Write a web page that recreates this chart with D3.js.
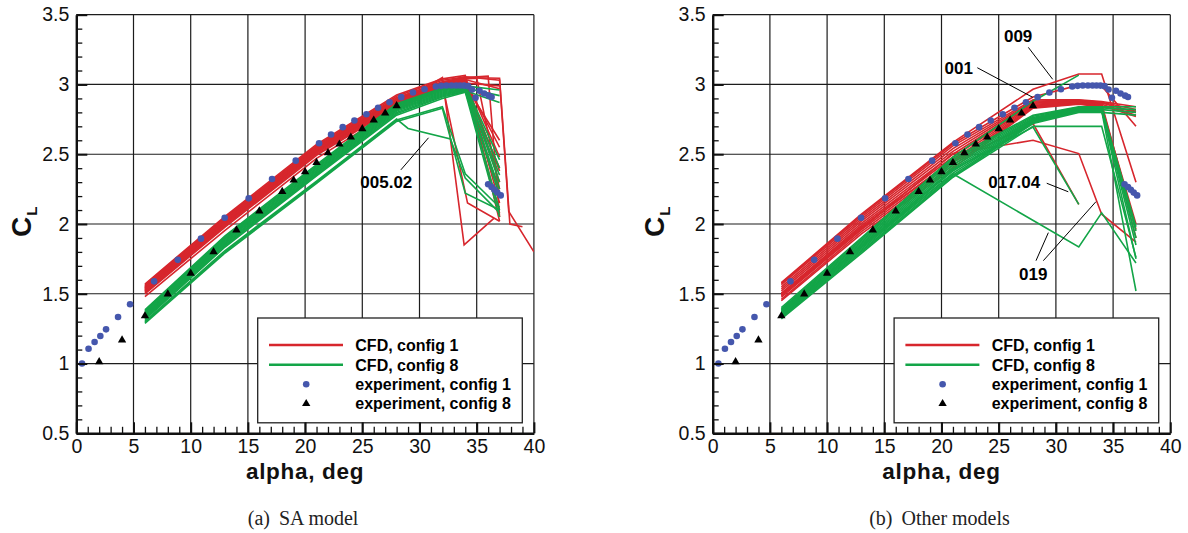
<!DOCTYPE html>
<html>
<head>
<meta charset="utf-8">
<script src="https://cdn.jsdelivr.net/npm/d3@7"></script>
<style>
  html, body { margin: 0; padding: 0; background: #fff; }
  svg { display: block; }
</style>
</head>
<body>
<svg id="fig" width="1188" height="533"></svg>
<script>
// ---------------------------------------------------------------
// Lift coefficient vs. angle of attack, CFD runs and wind tunnel data
// ---------------------------------------------------------------

// Standard angles of attack of the CFD runs (deg)
const alphaStd = [6, 13, 21, 28, 32, 34, 37];

// Experiment, config 1 (circles)
const expAlpha1 = [0.5, 1.07, 1.6, 2.1, 2.6, 3.65, 4.7, 6.8, 8.87, 10.9, 12.97, 15.07, 17.11, 19.18,
  21.22, 22.27, 23.29, 24.31, 25.36, 26.38, 27.38, 28.4, 29.43, 30.44, 31.43, 31.9, 32.35, 32.8,
  33.2, 33.55, 33.9, 34.25, 34.6, 34.9, 35.25, 35.65, 36.05, 36.3,
  36.0, 36.3, 36.55, 36.8, 37.1];
const expCL1 = [1.0, 1.106, 1.154, 1.197, 1.245, 1.334, 1.425, 1.589, 1.743, 1.895, 2.045, 2.184, 2.323, 2.454,
  2.579, 2.641, 2.694, 2.742, 2.787, 2.833, 2.873, 2.909, 2.942, 2.966, 2.985, 2.99, 2.993, 2.993,
  2.993, 2.993, 2.992, 2.988, 2.964, 2.905, 2.955, 2.935, 2.92, 2.91,
  2.285, 2.265, 2.245, 2.225, 2.205];

// Experiment, config 8 (triangles)
const expAlpha8 = [2, 4, 6, 8, 10, 12, 14, 16, 18, 19, 20, 21, 22, 23, 24, 25, 26, 27, 28];
const expCL8 = [1.012, 1.168, 1.341, 1.498, 1.647, 1.800, 1.957, 2.093, 2.232, 2.314, 2.374, 2.440,
  2.510, 2.572, 2.622, 2.682, 2.744, 2.794, 2.847];

// ---- (a) SA model ----
// config 1 runs on the standard angles
const saConfig1CL = [
  [1.570, 2.055, 2.570, 2.925, 3.040, 3.065, 2.02],
  [1.563, 2.047, 2.562, 2.915, 3.030, 3.055, 2.30],
  [1.556, 2.040, 2.555, 2.905, 3.020, 3.045, 2.48],
  [1.549, 2.032, 2.548, 2.895, 3.010, 3.035, 2.97],
  [1.542, 2.025, 2.540, 2.885, 3.005, 3.030, 2.15],
  [1.535, 2.017, 2.532, 2.878, 3.000, 3.025, 2.55],
  [1.528, 2.010, 2.525, 2.870, 2.995, 3.020, 2.38],
  [1.521, 2.002, 2.517, 2.862, 2.990, 3.010, 2.99],
  [1.514, 1.995, 2.510, 2.855, 2.985, 3.005, 2.22],
  [1.507, 1.987, 2.500, 2.848, 2.980, 3.000, 2.08],
  [1.500, 1.978, 2.492, 2.840, 2.975, 2.995, 2.60],
  [1.480, 1.955, 2.470, 2.825, 2.965, 2.985, 2.40]
];
// config 1 runs with extra post-stall angles
const saConfig1ExtraAlpha = [
  [6, 13, 21, 28, 32, 34, 36, 37],
  [6, 13, 21, 28, 32, 34, 35, 37],
  [6, 13, 21, 28, 32, 33.9, 36.5],
  [6, 13, 21, 28, 32, 34.2, 37],
  [6, 13, 21, 28, 32, 34, 37, 37.9, 39],
  [6, 13, 21, 28, 32, 34, 37, 37.8, 40]
];
const saConfig1ExtraCL = [
  [1.545, 2.028, 2.544, 2.890, 3.008, 3.050, 3.060, 2.05],
  [1.525, 2.006, 2.520, 2.866, 2.992, 3.040, 3.045, 2.25],
  [1.517, 1.998, 2.513, 2.858, 3.050, 1.85, 2.04],
  [1.532, 2.014, 2.528, 2.874, 3.000, 2.15, 2.02],
  [1.538, 2.021, 2.536, 2.881, 3.002, 3.050, 3.045, 2.00, 1.98],
  [1.552, 2.036, 2.551, 2.900, 3.015, 3.055, 3.030, 2.09, 1.80]
];
// config 8 runs on the standard angles
const saConfig8CL = [
  [1.385, 1.915, 2.425, 2.862, 2.975, 2.995, 2.46],
  [1.378, 1.907, 2.417, 2.855, 2.968, 2.990, 2.96],
  [1.371, 1.899, 2.409, 2.848, 2.960, 2.985, 2.30],
  [1.364, 1.891, 2.401, 2.841, 2.953, 2.980, 2.40],
  [1.357, 1.883, 2.393, 2.833, 2.946, 2.975, 2.92],
  [1.350, 1.875, 2.385, 2.825, 2.939, 2.970, 2.20],
  [1.343, 1.867, 2.377, 2.817, 2.932, 2.965, 2.35],
  [1.336, 1.859, 2.369, 2.809, 2.925, 2.960, 2.10],
  [1.329, 1.851, 2.361, 2.800, 2.918, 2.955, 2.87],
  [1.322, 1.843, 2.353, 2.790, 2.910, 2.950, 2.25],
  [1.315, 1.835, 2.345, 2.780, 2.900, 2.945, 2.05],
  [1.295, 1.800, 2.300, 2.745, 2.840, 2.360, 2.12],
  [1.288, 1.792, 2.292, 2.735, 2.830, 2.220, 2.10]
];
// config 8, run 005.02
const saRun00502Alpha = [6, 13, 21, 28, 29, 32.7, 34, 37];
const saRun00502CL = [1.302, 1.810, 2.308, 2.752, 2.685, 2.610, 2.330, 2.08];

// ---- (b) Other models ----
const otherConfig1CL = [
  [1.580, 2.070, 2.585, 2.965, 3.075, 3.075, 2.30],   // 009
  [1.575, 2.062, 2.575, 2.910, 2.995, 2.990, 2.70],   // 001
  [1.565, 2.050, 2.560, 2.890, 2.890, 2.878, 2.84],
  [1.550, 2.035, 2.540, 2.882, 2.886, 2.873, 2.82],
  [1.535, 2.020, 2.520, 2.874, 2.882, 2.868, 2.80],
  [1.520, 2.005, 2.500, 2.866, 2.878, 2.863, 1.96],
  [1.505, 1.990, 2.480, 2.858, 2.874, 2.858, 2.78],
  [1.490, 1.975, 2.460, 2.850, 2.870, 2.853, 1.90],
  [1.475, 1.960, 2.440, 2.843, 2.866, 2.848, 2.77],
  [1.460, 1.945, 2.420, 2.836, 2.862, 2.843, 2.00],
  [1.450, 1.930, 2.400, 2.830, 2.858, 2.838, 2.81],
  [1.485, 1.965, 2.505, 2.600, 2.505, 2.070, 1.87]    // 019
];
const otherRun01704Alpha = [6, 13, 21, 28, 32];
const otherRun01704Config1CL = [1.500, 1.980, 2.450, 2.720, 2.140];
const otherRun01704Config8CL = [1.350, 1.840, 2.390, 2.695, 2.140];

const otherConfig8CL = [
  [1.390, 1.890, 2.470, 2.780, 2.840, 2.840, 2.84],
  [1.383, 1.880, 2.455, 2.772, 2.836, 2.836, 1.98],
  [1.376, 1.870, 2.440, 2.764, 2.832, 2.832, 2.82],
  [1.369, 1.860, 2.425, 2.756, 2.828, 2.828, 1.90],
  [1.362, 1.850, 2.410, 2.750, 2.824, 2.824, 1.75],
  [1.355, 1.840, 2.395, 2.744, 2.820, 2.820, 2.80],
  [1.348, 1.830, 2.380, 2.738, 2.816, 2.816, 1.85],
  [1.341, 1.820, 2.365, 2.732, 2.812, 2.812, 1.52],
  [1.334, 1.810, 2.350, 2.726, 2.808, 2.808, 1.95],
  [1.327, 1.800, 2.340, 2.720, 2.800, 2.800, 2.78],
  [1.320, 1.790, 2.335, 2.700, 2.700, 2.700, 1.76]
];
const otherConfig8UpperAlpha = [6, 13, 21, 28, 32];
const otherConfig8UpperCL = [1.400, 1.900, 2.480, 2.880, 3.067];
const otherRun019Config8Alpha = [6, 13, 21, 32, 34, 37];
const otherRun019Config8CL = [1.345, 1.835, 2.360, 1.835, 2.080, 1.72];

// Axis ticks
const xMajorTicks = [0, 5, 10, 15, 20, 25, 30, 35, 40];
const yMajorTicks = [0.5, 1, 1.5, 2, 2.5, 3, 3.5];
const legendLabels = ["CFD, config 1", "CFD, config 8", "experiment, config 1", "experiment, config 8"];

// Run labels with leader lines: [text, textAlpha, textCL, [[a0, c0, a1, c1], ...]]
const saRunLabels = [
  ["005.02", 27.1, 2.255, [[30.79, 2.618, 28.37, 2.388]]]
];
const otherRunLabels = [
  ["009", 26.7, 3.306, [[27.59, 3.266, 29.72, 3.037]]],
  ["001", 21.5, 3.073, [[23.13, 3.12, 27.97, 2.908]]],
  ["017.04", 26.36, 2.256, [[29.2, 2.292, 31.08, 2.231]]],
  ["019", 28.02, 1.599, [[28.26, 1.737, 29.34, 1.938], [28.9, 1.737, 33.5, 2.16]]]
];

// ---------------------------------------------------------------
const RED = "#d7262d";
const GREEN = "#13a548";
const BLUE = "#4557ad";
const SANS = "'Liberation Sans', Arial, Helvetica, sans-serif";
const SERIF = "'Liberation Serif', 'Times New Roman', serif";

const svg = d3.select("#fig");

function toPoints(alphas, cls) {
  return alphas.map((a, i) => [a, cls[i]]);
}

function drawPanel(cfg) {
  const x = d3.scaleLinear().domain([0, 40]).range([cfg.left, cfg.right]);
  const y = d3.scaleLinear().domain([0.5, 3.5]).range([433.3, 14.7]);
  const g = svg.append("g");
  const clipId = "clip" + cfg.id;
  svg.append("clipPath").attr("id", clipId).append("rect")
    .attr("x", cfg.left).attr("y", 14.7).attr("width", cfg.right - cfg.left).attr("height", 433.3 - 14.7);

  // grid
  const grid = g.append("g").attr("stroke", "#1c1c1c").attr("stroke-width", 1.2);
  grid.selectAll("line.v").data(xMajorTicks.filter(t => t > 0)).join("line")
    .attr("x1", d => x(d)).attr("x2", d => x(d)).attr("y1", y(0.5)).attr("y2", y(3.5));
  grid.selectAll("line.h").data(yMajorTicks.filter(t => t > 0.5)).join("line")
    .attr("x1", x(0)).attr("x2", x(40)).attr("y1", d => y(d)).attr("y2", d => y(d));

  const line = d3.line().x(d => x(d[0])).y(d => y(d[1]));
  const plot = g.append("g").attr("clip-path", `url(#${clipId})`)
    .attr("fill", "none").attr("stroke-width", 1.6).attr("stroke-linejoin", "miter");

  const reds = plot.append("g").attr("stroke", RED);
  cfg.red.forEach(r => reds.append("path").attr("d", line(toPoints(r[0], r[1]))));
  const greens = plot.append("g").attr("stroke", GREEN);
  cfg.green.forEach(r => greens.append("path").attr("d", line(toPoints(r[0], r[1]))));

  // experimental data
  const pts = g.append("g");
  pts.selectAll("circle").data(toPoints(expAlpha1, expCL1)).join("circle")
    .attr("cx", d => x(d[0])).attr("cy", d => y(d[1])).attr("r", 3.3).attr("fill", BLUE);
  const tri = d3.symbol().type(d3.symbolTriangle).size(30);
  pts.selectAll("path").data(toPoints(expAlpha8, expCL8)).join("path")
    .attr("transform", d => `translate(${x(d[0])},${y(d[1])})`).attr("d", tri).attr("fill", "#000");

  // run labels
  const ann = g.append("g");
  cfg.labels.forEach(([txt, ta, tc, leaders]) => {
    leaders.forEach(l => ann.append("line")
      .attr("x1", x(l[0])).attr("y1", y(l[1])).attr("x2", x(l[2])).attr("y2", y(l[3]))
      .attr("stroke", "#000").attr("stroke-width", 1));
    ann.append("text").attr("x", x(ta)).attr("y", y(tc)).attr("text-anchor", "middle")
      .attr("font-family", SANS).attr("font-weight", "bold").attr("font-size", 17).text(txt);
  });

  // legend
  const lx = cfg.left + 181.4, ly = 318;
  const leg = g.append("g").attr("font-family", SANS).attr("font-weight", "bold").attr("font-size", 16);
  leg.append("rect").attr("x", lx).attr("y", ly).attr("width", 264.6).attr("height", 104.8)
    .attr("fill", "#fff").attr("stroke", "#222").attr("stroke-width", 1.3);
  const rows = [345, 364.8, 384.2, 403.7];
  [RED, GREEN].forEach((c, i) => leg.append("line")
    .attr("x1", lx + 11.3).attr("x2", lx + 85.3).attr("y1", rows[i]).attr("y2", rows[i])
    .attr("stroke", c).attr("stroke-width", 2.6));
  leg.append("circle").attr("cx", lx + 48.5).attr("cy", rows[2]).attr("r", 3.3).attr("fill", BLUE);
  leg.append("path").attr("transform", `translate(${lx + 48.5},${rows[3]})`).attr("d", tri).attr("fill", "#000");
  legendLabels.forEach((t, i) => leg.append("text")
    .attr("x", lx + 97.6).attr("y", rows[i] + 5.7).text(t));

  // axes: ticks point into the plot
  const ax = g.append("g").attr("font-family", SANS);
  const yAxis = ax.append("g").attr("transform", `translate(${x(0)},0)`)
    .call(d3.axisLeft(y).tickValues(yMajorTicks).tickSizeInner(-11).tickSizeOuter(0).tickPadding(7)
      .tickFormat(d3.format("~g")));
  const yMinor = ax.append("g").attr("transform", `translate(${x(0)},0)`)
    .call(d3.axisLeft(y).tickValues(d3.range(0.6, 3.5, 0.1).filter(v => Math.abs(v * 2 - Math.round(v * 2)) > 1e-6))
      .tickSizeInner(-6).tickSizeOuter(0).tickFormat(""));
  const xAxis = ax.append("g").attr("transform", `translate(0,${y(0.5)})`)
    .call(d3.axisBottom(x).tickValues(xMajorTicks).tickSizeInner(-11).tickSizeOuter(0).tickPadding(6.3));
  const xMinor = ax.append("g").attr("transform", `translate(0,${y(0.5)})`)
    .call(d3.axisBottom(x).tickValues(d3.range(1, 40, 1).filter(v => v % 5 !== 0))
      .tickSizeInner(-6.5).tickSizeOuter(0).tickFormat(""));
  [yMinor, xMinor].forEach(a => { a.select(".domain").remove(); a.selectAll(".tick line").attr("stroke-width", 1.3).attr("stroke", "#111"); });
  [yAxis, xAxis].forEach(a => {
    a.select(".domain").attr("stroke-width", 2.4).attr("stroke", "#111");
    a.selectAll(".tick line").attr("stroke-width", 2).attr("stroke", "#111");
    a.selectAll(".tick text").attr("font-size", 19.5).attr("fill", "#111").attr("font-family", SANS);
  });

  // axis titles
  ax.append("text").attr("x", (cfg.left + cfg.right) / 2).attr("y", 478.5).attr("text-anchor", "middle")
    .attr("font-weight", "bold").attr("font-size", 22.5).attr("letter-spacing", 0.7)
    .attr("fill", "#111").text("alpha, deg");
  const ct = ax.append("text").attr("transform", `translate(${cfg.clX},237) rotate(-90)`)
    .attr("font-weight", "bold").attr("font-size", 28).attr("fill", "#111");
  ct.append("tspan").text("C");
  ct.append("tspan").attr("font-size", 15).attr("dx", 1).attr("dy", 6).text("L");

  // caption
  const cap = svg.append("text").attr("x", (cfg.left + cfg.right) / 2 - 2).attr("y", 525)
    .attr("text-anchor", "middle").attr("font-family", SERIF).attr("font-size", 20).attr("fill", "#222");
  cap.append("tspan").text(cfg.tag);
  cap.append("tspan").attr("dx", 9).text(cfg.caption);
}

const alphaRuns = rows => rows.map(r => [alphaStd, r]);

drawPanel({
  id: "a", left: 76.3, right: 533.9, clX: 31, tag: "(a)", caption: "SA model",
  red: alphaRuns(saConfig1CL).concat(saConfig1ExtraAlpha.map((a, i) => [a, saConfig1ExtraCL[i]])),
  green: alphaRuns(saConfig8CL).concat([[saRun00502Alpha, saRun00502CL]]),
  labels: saRunLabels
});

drawPanel({
  id: "b", left: 712.7, right: 1170.3, clX: 664, tag: "(b)", caption: "Other models",
  red: alphaRuns(otherConfig1CL).concat([[otherRun01704Alpha, otherRun01704Config1CL]]),
  green: alphaRuns(otherConfig8CL).concat([
    [otherConfig8UpperAlpha, otherConfig8UpperCL],
    [otherRun01704Alpha, otherRun01704Config8CL],
    [otherRun019Config8Alpha, otherRun019Config8CL]
  ]),
  labels: otherRunLabels
});
</script>
</body>
</html>
